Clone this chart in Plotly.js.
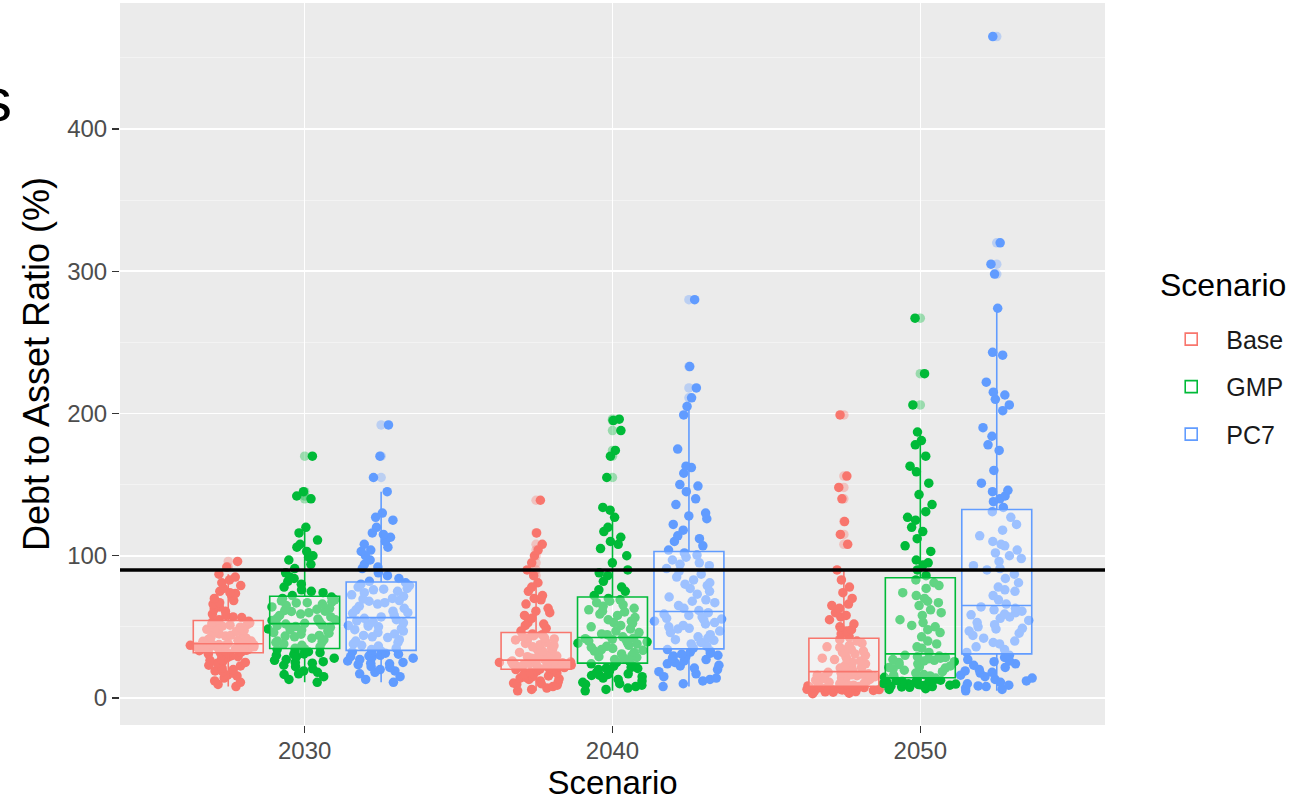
<!DOCTYPE html>
<html>
<head>
<meta charset="utf-8">
<script src="https://cdn.plot.ly/plotly-3.0.1.min.js"></script>
<style>html,body{margin:0;padding:0;background:#fff;}#chart{width:1301px;height:801px;}</style>
</head>
<body>
<div id="chart"></div>
<script>
// ---------------- DATA ----------------
const years = ['2030', '2040', '2050'];
const scenarios = ['Base', 'GMP', 'PC7'];
const refLine = 90;
const yTicks = [0, 100, 200, 300, 400];

const base2030 = [8, 9.5, 11, 12, 14, 15.5, 16, 17.5, 18.5, 19, 20, 21, 22.5, 23, 24.5, 25, 26, 26.5, 27, 28.5, 29, 29.5, 30, 31, 31.5,
  32, 32.3, 32.8, 33, 33.2, 33.5, 33.9, 34.2, 34.6, 35, 35.3, 35.5, 35.7, 36, 36.2, 36.5, 36.7, 36.8, 37, 37.2, 37.4, 37.6, 37.8, 37.9, 38,
  38.3, 39, 39.8, 40, 40.5, 41.2, 42, 42.8, 43.5, 44.1, 45, 45.5, 46, 46.8, 47.5, 48.3, 49, 49.8, 50.5, 51.2, 51.5, 52, 52.7, 53.3, 54,
  55, 56.5, 57, 58, 59, 61, 62.5, 64, 65, 66, 67, 68.5, 70, 72, 73.5, 74, 75, 77, 79, 81, 83, 85, 87, 92, 96];
const base2040 = [5, 6, 7, 8, 9, 9.5, 10, 10.5, 11, 12, 13, 13.5, 14, 14.5, 15, 15.5, 16, 16.8, 17, 17.5, 18, 18.5, 19, 19.5, 20,
  20.3, 20.7, 21, 21.2, 21.4, 21.8, 22, 22.3, 22.7, 23, 23.1, 23.3, 23.6, 24, 24.2, 24.5, 24.8, 25, 25.2, 25.3, 25.5, 25.7, 25.9, 26, 26.2,
  27, 28, 29, 29.5, 30, 31, 32, 33, 34, 34.5, 35, 36, 36.8, 37.5, 38.3, 39, 40, 40.8, 41.5, 42, 42.3, 43, 43.8, 44.5, 45,
  47, 49, 51, 52, 53, 56, 58, 60, 61, 63, 66, 69, 70, 72, 75, 78, 81, 86, 90, 95, 100, 104, 108, 116, 139];
const base2050 = [3, 3.4, 3.8, 4.1, 4.3, 4.5, 4.8, 5, 5.3, 5.6, 5.9, 6, 6.1, 6.3, 6.5, 6.7, 6.9, 7.1, 7.2, 7.3, 7.5, 7.7, 7.8, 7.9, 8,
  8.5, 9, 9.5, 9.8, 10, 10.5, 11, 11.5, 12, 12.5, 12.7, 13, 13.5, 14, 14.5, 15, 15.5, 15.7, 16, 16.3, 16.7, 17, 17.3, 17.6, 18,
  19, 20, 21, 21.5, 22, 23, 24, 25, 26, 27, 27.5, 28, 29, 30, 31, 32, 33, 34, 35, 35.5, 36, 37, 38.5, 40, 41,
  43, 45, 47, 48, 50, 52, 55, 57, 58, 60, 63, 65, 66, 70, 74, 78, 83, 90, 108, 115, 124, 140, 148, 156, 199];

const gmp2030 = [11, 13, 15, 16.5, 17, 18, 19, 20.5, 22, 23, 24.5, 25, 25.5, 26.5, 27, 28, 29, 30, 30.5, 31, 31.8, 32.5, 33, 34, 34.5,
  35, 36, 37, 38, 39, 39.5, 40, 41, 42, 43, 43.5, 44, 44.8, 45.5, 46, 47, 47.8, 48, 48.5, 49, 49.7, 50.2, 50.8, 51.4, 52,
  52.5, 53.5, 54.5, 55, 55.5, 56, 57, 58, 59, 60, 60.8, 61, 61.5, 62.3, 63, 64, 65, 66, 66.8, 67, 67.5, 68.3, 69, 70, 71,
  72, 74, 75, 76, 78, 80, 82, 84, 85, 88, 91, 94, 97, 99, 100, 103, 106, 108, 111, 116, 120, 140, 142, 145, 170];
const gmp2040 = [5, 6, 7, 8, 9, 9.5, 10, 11, 12, 13, 14, 15, 15.8, 16, 16.5, 17, 18, 19, 20, 20.8, 21, 21.5, 22.3, 23, 24,
  25, 26, 27, 28, 28.5, 29, 30, 31, 32, 33, 33.5, 34, 34.8, 35.5, 36.3, 37, 38, 38.5, 38.8, 39.5, 40, 40.6, 41.2, 41.7, 42,
  43, 44.5, 45, 46, 47, 48.5, 50, 51, 52.5, 53, 54, 55, 56.5, 58, 59, 60.5, 61, 62, 63, 64.5, 65.5, 67, 68, 69, 70,
  72, 75, 76, 78, 82, 86, 88, 90, 95, 100, 105, 108, 110, 113, 117, 120, 127, 132, 134, 155, 170, 174, 188, 195, 196];
const gmp2050 = [6, 6.5, 7, 7.5, 7.8, 8, 8.3, 8.7, 9, 9.4, 9.8, 10, 10.2, 10.6, 11, 11.4, 11.8, 12, 12.2, 12.5, 12.8, 13.1, 13.4, 13.7, 14,
  14.5, 15.5, 16, 16.5, 17.5, 18.5, 19.5, 20.5, 21, 21.5, 22, 22.5, 23.5, 24, 25, 25.5, 26, 26.5, 27, 27.5, 28, 28.5, 29, 29.5, 30,
  32, 35, 36, 38, 40, 43, 46, 48, 50, 51, 53, 55, 58, 60, 62, 65, 67, 68, 70, 72, 74, 77, 79, 81, 83,
  86, 90, 93.5, 95, 97, 103, 107, 112, 117, 120, 125, 127, 131, 136, 143, 151, 159, 163, 170, 178, 181, 187, 206, 228, 267];

const pc72030 = [11, 13, 15, 17, 18, 19, 20, 21.5, 22, 23.5, 24, 24.5, 25, 26, 27, 28, 28.8, 29, 29.5, 30, 30.8, 31.5, 32, 32.5, 33,
  34, 35, 36.5, 37, 38, 39, 40, 41, 42.5, 43, 44, 45, 46, 47, 48, 49, 50, 50.5, 51, 52, 52.8, 53.5, 54.2, 55, 56,
  57, 58, 59.5, 60, 61, 62, 63, 64.5, 66, 67, 68, 68.5, 69.5, 70, 71.5, 72.5, 74, 75, 76, 76.5, 77, 78, 79, 80, 81,
  82, 84, 86, 88, 91, 92, 94, 97, 100, 103, 104, 106, 108, 110, 113, 115, 116, 120, 125, 127, 130, 145, 155, 170, 192];
const pc72040 = [8, 10, 12, 13, 14, 15, 17, 18.5, 20, 21, 22.5, 23, 24, 25, 26, 27, 28, 29, 29.5, 30, 30.8, 31.5, 32.3, 33, 34,
  35, 36.5, 38, 39, 40.5, 41, 42, 43, 44.5, 46, 47, 48.5, 49, 50, 51, 52, 53, 54, 55, 55.5, 56, 57, 58, 59, 60,
  61.5, 63, 65, 67, 68, 69, 71, 73, 75, 77, 79, 80, 81, 83, 85, 87, 89, 91, 93, 94, 95, 97, 99, 100.5, 102,
  104, 107, 110, 112, 114, 118, 122, 126, 128, 130, 136, 140, 145, 149, 150, 158, 162, 163, 175, 199, 205, 211, 218, 233, 280];
const pc72050 = [5, 6, 7, 8, 8.5, 9, 10, 11, 12, 13, 14, 15, 16, 17.5, 18, 19, 20, 21.5, 23, 24, 25.5, 26, 27, 28.5, 30,
  32, 34, 36, 38, 39, 40, 42, 44, 45.5, 47, 48.5, 49, 50, 51.5, 53, 54.5, 56, 57, 58.5, 59, 60, 61, 62, 63, 64,
  66, 69, 72, 75, 76, 78, 81, 84, 87, 90, 91, 93, 96, 98, 100, 102, 104, 107, 108, 110, 114, 118, 122, 127, 131,
  134, 138, 140, 142, 145, 146, 151, 160, 174, 178, 184, 190, 202, 206, 210, 213, 215, 222, 241, 243, 274, 298, 305, 320, 465];

const seriesByScenario = {
  Base: [base2030, base2040, base2050],
  GMP:  [gmp2030, gmp2040, gmp2050],
  PC7:  [pc72030, pc72040, pc72050]
};

// ---------------- STYLE ----------------
const colors = {Base: '#F8766D', GMP: '#00BA38', PC7: '#619CFF'};
const faint  = {Base: 'rgba(248,118,109,0.35)', GMP: 'rgba(0,186,56,0.35)', PC7: 'rgba(97,156,255,0.35)'};
const FONT = 'Liberation Sans, Arial, sans-serif';

// dodge geometry (category units): slot of each scenario inside a year group
const dodgeSlot = 0.2485;
const baseRange = [-0.6, 2.6];
// one hidden overlay axis per scenario holds its jittered points, shifted by its dodge slot
const pointAxes = {Base: 'x', GMP: 'x2', PC7: 'x3'};
const pointShift = {Base: dodgeSlot, GMP: 0, PC7: -dodgeSlot};

const pointTraces = [];
const boxTraces = [];
scenarios.forEach(function (s) {
  const xs = [], ys = [];
  seriesByScenario[s].forEach(function (vals, i) {
    vals.forEach(function (v) { xs.push(years[i]); ys.push(v); });
  });
  pointTraces.push({
    type: 'box', name: s, x: xs, y: ys, xaxis: pointAxes[s], yaxis: 'y',
    boxpoints: 'all', jitter: 1, pointpos: 0, width: 0.25,
    line: {width: 0, color: colors[s]}, fillcolor: 'rgba(0,0,0,0)', whiskerwidth: 0,
    marker: {color: colors[s], size: 9.5, opacity: 1, line: {width: 0}},
    showlegend: false, legendgroup: s, hoverinfo: 'y'
  });
  boxTraces.push({
    type: 'box', name: s, x: xs, y: ys, xaxis: 'x4', yaxis: 'y',
    offsetgroup: s, alignmentgroup: 'all',
    boxpoints: 'outliers', jitter: 0, pointpos: 0,
    line: {width: 1.6, color: colors[s]}, fillcolor: 'rgba(255,255,255,0.38)', whiskerwidth: 0,
    marker: {color: faint[s], size: 9.5, line: {width: 0}, outliercolor: faint[s]},
    showlegend: true, legendgroup: s, hoverinfo: 'y'
  });
});

function hiddenAxis(shift, overlay) {
  const ax = {
    type: 'category', categoryorder: 'array', categoryarray: years,
    range: [baseRange[0] + shift, baseRange[1] + shift],
    visible: false, showgrid: false, zeroline: false, fixedrange: true
  };
  if (overlay) ax.overlaying = 'x';
  return ax;
}

const layout = {
  width: 1301, height: 801,
  margin: {l: 120, r: 196, t: 3, b: 76},
  paper_bgcolor: '#FFFFFF', plot_bgcolor: '#EBEBEB',
  font: {family: FONT, color: '#000'},
  boxmode: 'group', boxgap: 0.255, boxgroupgap: 0.085,
  xaxis: hiddenAxis(pointShift.Base, false),
  xaxis2: hiddenAxis(pointShift.GMP, true),
  xaxis3: hiddenAxis(pointShift.PC7, true),
  xaxis4: {
    overlaying: 'x', type: 'category', categoryorder: 'array', categoryarray: years,
    range: baseRange, showgrid: true, gridcolor: '#FFFFFF', gridwidth: 1.6,
    zeroline: false, showline: false,
    ticks: 'outside', ticklen: 7, tickwidth: 1.5, tickcolor: '#333333', ticklabelstandoff: -3,
    tickfont: {family: FONT, size: 24, color: '#4D4D4D'},
    title: {text: 'Scenario', font: {family: FONT, size: 33, color: '#000'}, standoff: 2}
  },
  yaxis: {
    range: [-19, 488.6], tickvals: yTicks, showgrid: true, gridcolor: '#FFFFFF', gridwidth: 1.6,
    minor: {dtick: 50, tick0: 0, showgrid: true, gridcolor: '#F5F5F5', gridwidth: 0.8, ticks: ''},
    zeroline: false, showline: false,
    ticks: 'outside', ticklen: 7, tickwidth: 1.5, tickcolor: '#333333',
    tickfont: {family: FONT, size: 24, color: '#4D4D4D'},
    title: {text: 'Debt to Asset Ratio (%)', font: {family: FONT, size: 36, color: '#000'}, standoff: 6}
  },
  shapes: [{
    type: 'line', xref: 'paper', x0: 0, x1: 1, yref: 'y', y0: refLine, y1: refLine,
    line: {color: '#000000', width: 3.5}, layer: 'above'
  }],
  legend: {
    x: 1.052, xanchor: 'left', y: 0.566, yanchor: 'top',
    itemwidth: 60, tracegroupgap: 12, traceorder: 'grouped',
    font: {family: FONT, size: 25, color: '#1A1A1A'},
    bgcolor: 'rgba(0,0,0,0)'
  },
  annotations: [
    {
      text: 'Scenario', xref: 'paper', yref: 'paper', x: 1.0538, y: 0.6094,
      xanchor: 'left', yanchor: 'middle', showarrow: false,
      font: {family: FONT, size: 32, color: '#000'}
    },
    {
      text: 's', xref: 'paper', yref: 'paper', x: -0.1076, y: 0.866,
      xanchor: 'right', yanchor: 'middle', showarrow: false,
      font: {family: FONT, size: 62, color: '#000'}
    }
  ]
};

Plotly.newPlot('chart', pointTraces.concat(boxTraces), layout, {displayModeBar: false, staticPlot: true});
</script>
</body>
</html>
